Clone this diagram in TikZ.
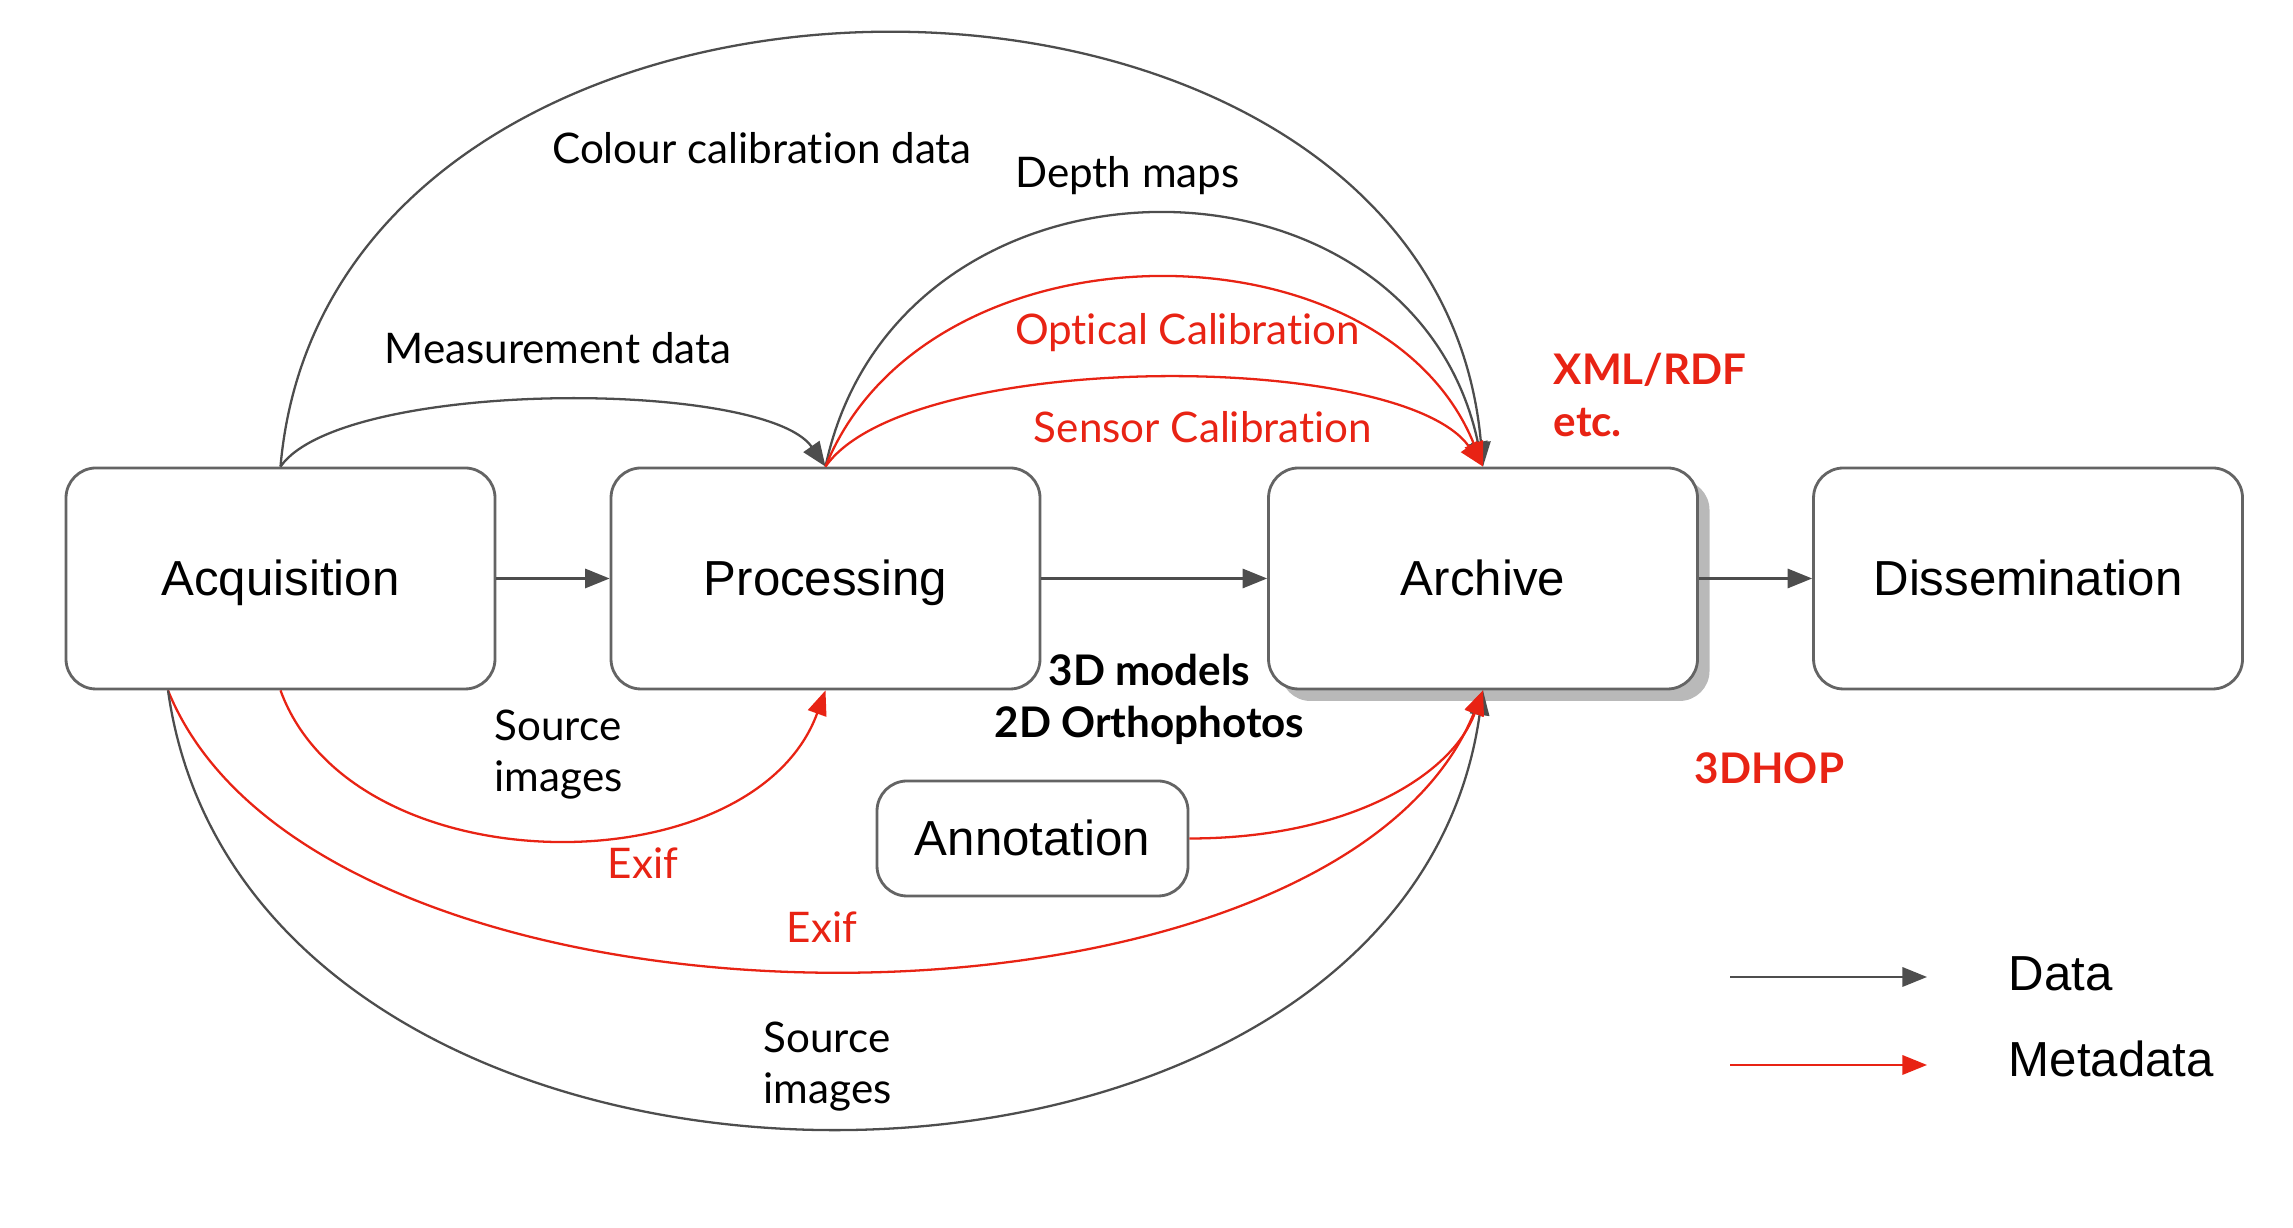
\documentclass[tikz,border=0pt]{standalone}
\usepackage{fontspec}
\setmainfont{Liberation Sans}
\newfontfamily\labelfont{Lato}[Ligatures=NoCommon]
\usepackage{tikz}
\usetikzlibrary{arrows.meta, calc, shadows}
\definecolor{linegray}{RGB}{77,77,77}
\definecolor{boxgray}{RGB}{100,100,100}
\definecolor{metared}{RGB}{232,35,20}

\begin{document}
\begin{tikzpicture}[>={Triangle[length=7pt,width=5.5pt]},
  stage/.style={draw=boxgray, line width=0.8pt, rounded corners=0.3cm, fill=white,
    minimum width=4.29cm, minimum height=2.21cm, inner sep=0pt, text height=0.97em, text depth=0pt,
    font=\fontsize{14}{16}\selectfont},
  data/.style={->, draw=linegray, line width=0.65pt},
  meta/.style={->, draw=metared, line width=0.65pt},
  lbl/.style={inner sep=0pt, font=\labelfont\fontsize{12}{14.5}\selectfont},
  lblbold/.style={inner sep=0pt, font=\labelfont\bfseries\fontsize{12}{15}\selectfont}]
\useasboundingbox (0,0) rectangle (22.93,12.28);

%% pipeline stages
\node[stage] (acq)  at (2.805,6.495) {Acquisition};
\node[stage] (proc) at (8.255,6.495) {Processing};
\node[stage, drop shadow={shadow xshift=0.12cm, shadow yshift=-0.12cm, opacity=0.55}]
  (arch) at (14.83,6.495) {Archive};
\node[stage] (diss) at (20.28,6.495) {Dissemination};
\node[stage, minimum width=3.11cm, minimum height=1.15cm] (annot) at (10.325,3.895) {Annotation};

\draw[data] (acq) -- (proc);
\draw[data] (proc) -- (arch);
\draw[data] (arch) -- (diss);

%% arcs over the top
\draw[data] (acq.north) .. controls +(55:1.07) and +(125:1.07) .. (proc.north);
\draw[data] (acq.north) .. controls +(85:5.78) and +(95:5.78) .. (arch.north);
\draw[data] (proc.north) .. controls +(78:3.43) and +(102:3.43) .. (arch.north);
\draw[meta] (proc.north) .. controls +(68:2.70) and +(112:2.70) .. (arch.north);
\draw[meta] (proc.north) .. controls +(55:1.43) and +(125:1.43) .. (arch.north);

%% arcs underneath
\coordinate (acqfoot) at ($(acq.south)+(-1.125,0)$);
\draw[meta] (acq.south) .. controls +(-70:2.11) and +(-110:2.11) .. (proc.south);
\draw[meta] (acqfoot) .. controls +(-68:4.02) and +(-112:4.02) .. (arch.south);
\draw[data] (acqfoot) .. controls +(-82:5.88) and +(-98:5.88) .. (arch.south);
\draw[meta] (annot.east) .. controls +(1.6,0) and +(-110:0.9) .. (arch.south);

%% labels
\node[lbl] (colourlbl) at (7.62,10.80) {Colour calibration data};
\node[lbl] (depthlbl) at (11.275,10.525) {Depth maps};
\node[lbl] (measlbl) at (5.58,8.80) {Measurement data};
\node[lbl, metared] (opticlbl) at (11.875,8.95) {Optical Calibration};
\node[lbl, metared] (sensorlbl) at (12.03,8.01) {Sensor Calibration};
\node[lblbold, metared, anchor=west, align=left] (xmllbl) at (15.53,8.33) {XML/RDF\\etc.};
\node[lblbold, metared] (hoplbl) at (17.695,4.60) {3DHOP};
\node[lblbold, align=center] (modellbl) at (11.495,5.285) {3D models\\2D Orthophotos};
\node[lbl, anchor=west, align=left] (srcuplbl) at (4.94,4.73) {Source\\images};
\node[lbl, metared] (exifuplbl) at (6.43,3.65) {Exif};
\node[lbl, metared] (exiflowlbl) at (8.22,3.01) {Exif};
\node[lbl, anchor=west, align=left] (srclowlbl) at (7.63,1.615) {Source\\images};

%% legend
\coordinate (datafrom) at (17.30,2.51);
\coordinate (datato) at (19.27,2.51);
\coordinate (metafrom) at (17.30,1.63);
\coordinate (metato) at (19.27,1.63);
\draw[data] (datafrom) -- (datato);
\draw[meta] (metafrom) -- (metato);
\node[anchor=west, inner sep=0pt, font=\fontsize{14}{16}\selectfont] (datakey) at (20.08,2.54) {Data};
\node[anchor=west, inner sep=0pt, font=\fontsize{14}{16}\selectfont] (metakey) at (20.08,1.69) {Metadata};
\end{tikzpicture}
\end{document}
